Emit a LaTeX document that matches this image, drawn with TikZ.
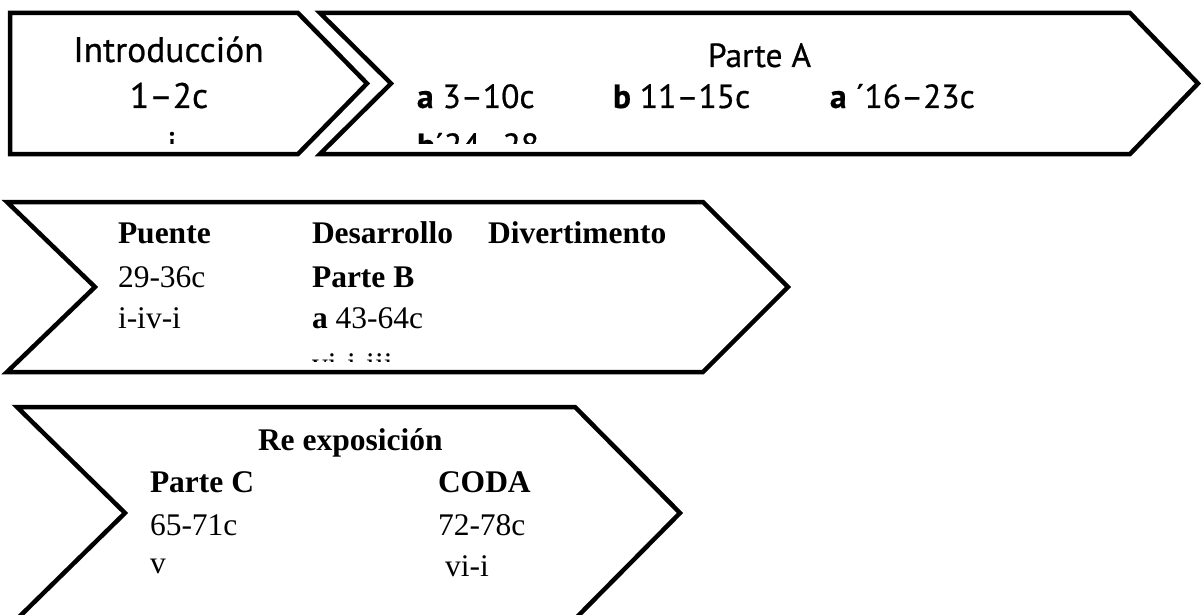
\documentclass[tikz,border=0pt]{standalone}
\usepackage{fontspec}
\setmainfont{Liberation Serif}
\newfontfamily\lsans[FakeBold=0.6]{PT Sans}
\begin{document}
\begin{tikzpicture}[x=1pt,y=-1pt,
  arrowshape/.style={draw=black, line width=4.5pt, line join=miter, miter limit=10},
  lbl/.style={anchor=base west, inner sep=0pt, outer sep=0pt},
  clbl/.style={anchor=base, inner sep=0pt, outer sep=0pt},
  sans/.style={font=\lsans\fontsize{33.5}{40}\selectfont},
  bigsans/.style={font=\lsans\fontsize{35.5}{42}\selectfont},
  ser/.style={font=\fontsize{31.5}{38}\selectfont}]
\useasboundingbox (0,0) rectangle (1201,615);
% shapes
\draw[arrowshape] (10,13) -- (298,13) -- (367,83.5) -- (298,154) -- (10,154) -- cycle;
\draw[arrowshape] (320,13) -- (1130,13) -- (1198,83.5) -- (1130,154) -- (320,154) -- (391,83.5) -- cycle;
\draw[arrowshape] (7,202) -- (703,202) -- (788,287) -- (703,372) -- (7,372) -- (95,287) -- cycle;
\draw[arrowshape] (17,407) -- (575,407) -- (680,513) -- (575,619) -- (17,619) -- (125,513) -- cycle;
% row 1
\node[clbl,bigsans] (intro) at (168.5,62) {Introducción};
\node[clbl,bigsans] (introc) at (169,108) {1–2c};
\node[clbl,sans] (parteA) at (759.5,67) {Parte A};
\node[lbl,sans] (a1) at (417,108) {\textbf{a} 3–10c};
\node[lbl,sans] (b1) at (613,108) {\textbf{b} 11–15c};
\node[lbl,sans] (a2) at (830,108) {\textbf{a} ´16–23c};
\begin{scope}
\clip (0,0) rectangle (1201,143);
\node[clbl,bigsans] (introt) at (172,157) {i};
\node[lbl,sans] (b2) at (417,157) {\textbf{b}´24–28};
\end{scope}
% row 2
\node[lbl,ser] (puente) at (118,243) {\textbf{Puente}};
\node[lbl,ser] (puentec) at (118,287) {29-36c};
\node[lbl,ser] (puenteh) at (118,328) {i-iv-i};
\node[lbl,ser] (desar) at (312,243) {\textbf{Desarrollo}};
\node[lbl,ser] (parteB) at (312,287) {\textbf{Parte B}};
\node[lbl,ser] (a3) at (312,328) {\textbf{a} 43-64c};
\node[lbl,ser] (divert) at (488,243) {\textbf{Divertimento}};
\begin{scope}
\clip (0,0) rectangle (1201,361);
\node[lbl,ser] (a3h) at (312,374) {vi-i-iii};
\end{scope}
% row 3
\node[lbl,ser] (reexp) at (258,450) {\textbf{Re exposición}};
\node[lbl,ser] (parteC) at (150,492) {\textbf{Parte C}};
\node[lbl,ser] (parteCc) at (150,535) {65-71c};
\node[lbl,ser] (parteCh) at (150,573) {v};
\node[lbl,ser] (coda) at (438,492) {\textbf{CODA}};
\node[lbl,ser] (codac) at (438,535) {72-78c};
\node[lbl,ser] (codah) at (445,576) {vi-i};
\end{tikzpicture}
\end{document}
